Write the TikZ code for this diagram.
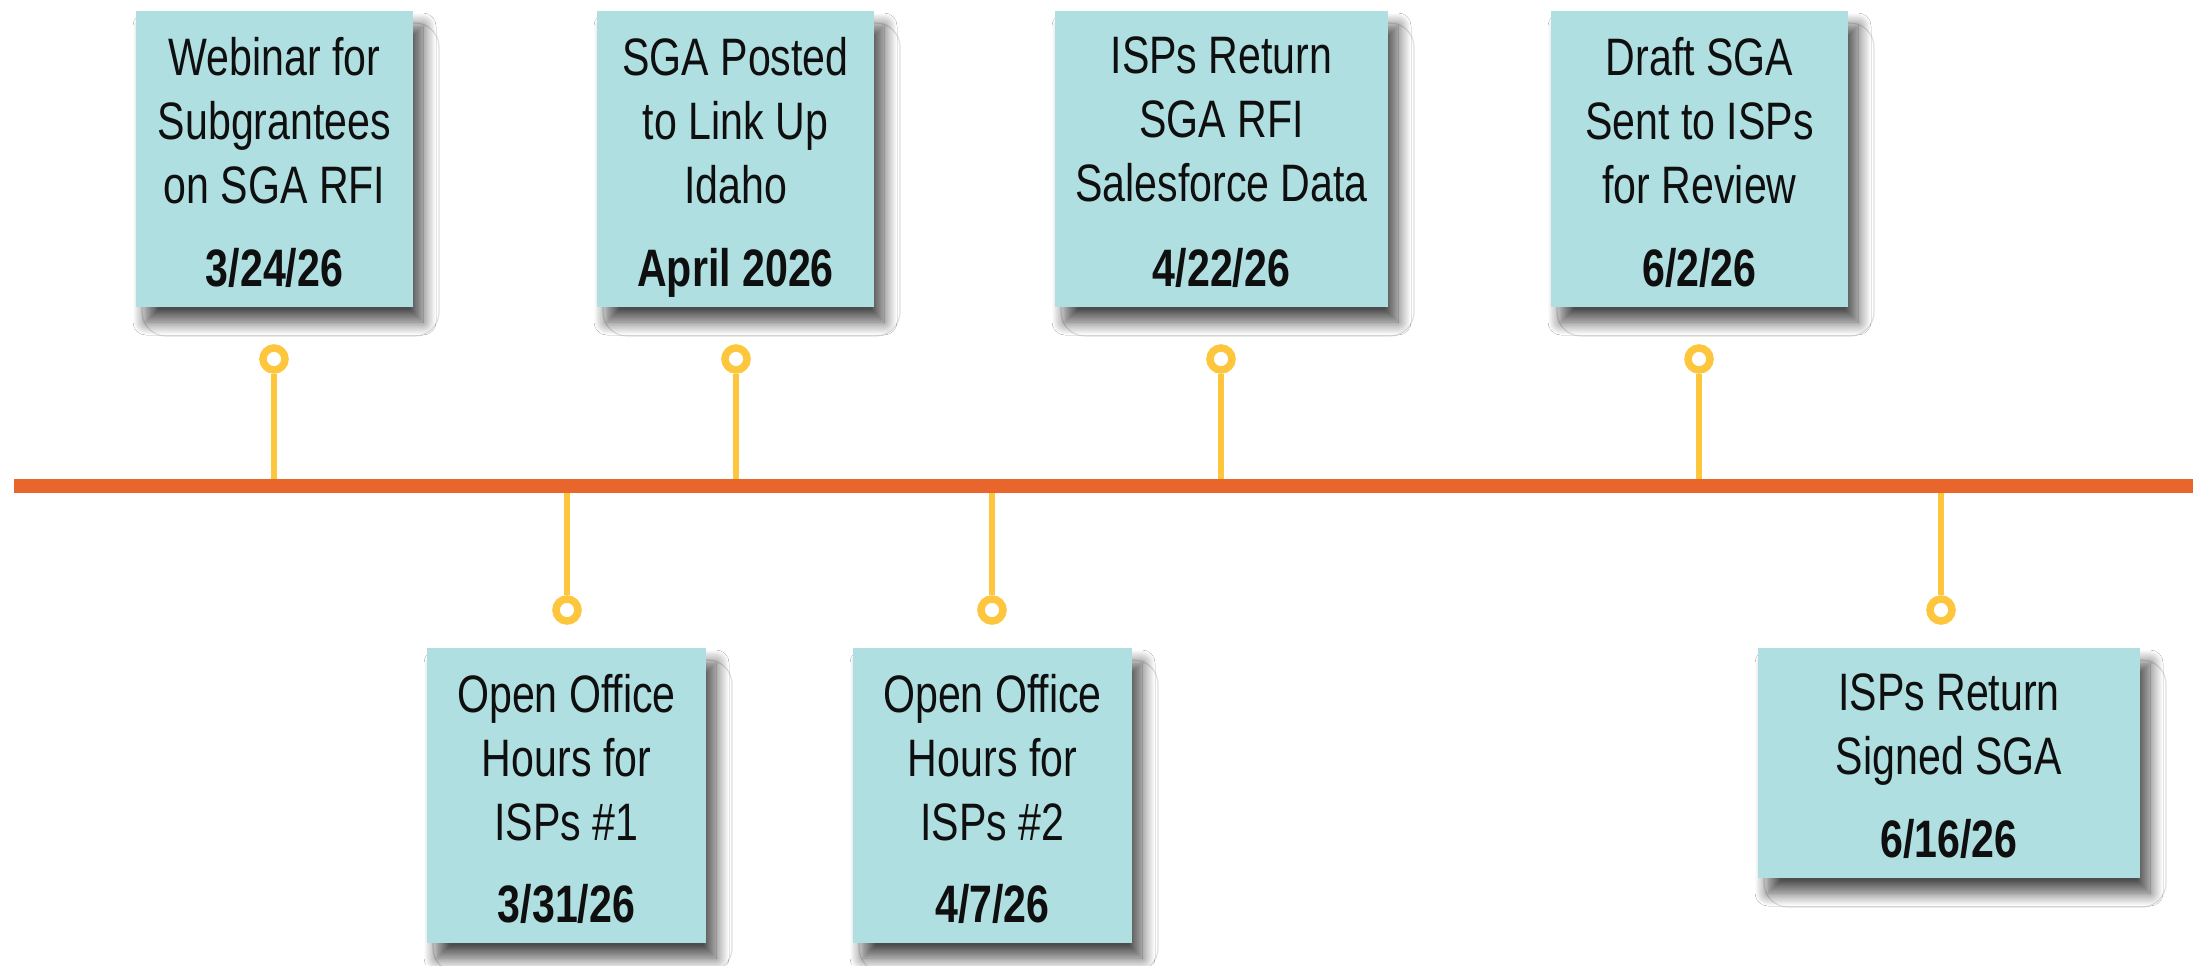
\documentclass[tikz,border=0pt]{standalone}
\usepackage{fontspec}
\setmainfont{Liberation Sans}[FakeStretch=0.78]
\usetikzlibrary{calc,shadows.blur}

\definecolor{cardfill}{RGB}{176,223,225}
\definecolor{lineorange}{RGB}{232,101,44}
\definecolor{pinyellow}{RGB}{253,198,60}
\definecolor{inktext}{RGB}{15,15,15}

% one drawing unit = one pixel of the 2193 x 965 canvas
\newcommand\pxu{0.02cm}

\tikzset{
  card/.style={fill=cardfill, inner sep=0pt,
    blur shadow={shadow xshift=10*\pxu, shadow yshift=-15*\pxu,
      shadow blur radius=13*\pxu, shadow blur steps=16, shadow opacity=70}},
  halo/.style={draw=black!12, line width=1.2*\pxu, rounded corners=24*\pxu},
  cardtext/.style={inner sep=0pt, align=center, text=inktext,
    font=\fontsize{30pt}{36.4pt}\selectfont},
  datetext/.style={inner sep=0pt, text=inktext,
    font=\fontsize{30pt}{36.4pt}\selectfont\bfseries},
  timeline/.style={draw=lineorange, line width=14*\pxu},
  stem/.style={draw=pinyellow, line width=5.5*\pxu},
  ring/.style={circle, draw=pinyellow, fill=white, line width=7.5*\pxu,
    minimum size=22*\pxu, inner sep=0pt}
}

% card: name, centre x, centre y, width, height, text, date
\newcommand\tlcard[7]{%
  \draw[halo] (#2-#4/2+6, #3-#5/2+12) rectangle (#2+#4/2+26, #3+#5/2+29);
  \node[card, minimum width=#4*\pxu, minimum height=#5*\pxu] (#1) at (#2,#3) {};
  \node[cardtext, anchor=north] (#1-t) at ($(#1.north)+(0,26)$) {#6};
  \node[datetext, anchor=base] (#1-d) at ($(#1.south)+(0,-21)$) {#7};
}

\begin{document}
\begin{tikzpicture}[x=\pxu, y=-\pxu]
  \useasboundingbox[fill=white] (0,0) rectangle (2193,965);

  % cards above the line
  \tlcard{b1}{274.5}{159}{277}{296}{Webinar for\\Subgrantees\\on SGA RFI}{3/24/26}
  \tlcard{b2}{735.5}{159}{277}{296}{SGA Posted\\to Link Up\\Idaho}{April 2026}
  \tlcard{b3}{1221.5}{159}{333}{296}{ISPs Return\\SGA RFI\\Salesforce Data}{4/22/26}
  \tlcard{b4}{1699.5}{159}{297}{296}{Draft SGA\\Sent to ISPs\\for Review}{6/2/26}

  % cards below the line
  \tlcard{b5}{566.5}{795.5}{279}{295}{Open Office\\Hours for\\ISPs \#1}{3/31/26}
  \tlcard{b6}{992.5}{795.5}{279}{295}{Open Office\\Hours for\\ISPs \#2}{4/7/26}
  \tlcard{b7}{1949}{763}{382}{230}{ISPs Return\\Signed SGA}{6/16/26}

  % the time axis
  \coordinate (tlA) at (14,486);
  \coordinate (tlB) at (2193,486);

  % pins
  \node[ring] (p1) at (274,359) {};
  \node[ring] (p2) at (736,359) {};
  \node[ring] (p3) at (1221,359) {};
  \node[ring] (p4) at (1699,359) {};
  \node[ring] (p5) at (567,610) {};
  \node[ring] (p6) at (992,610) {};
  \node[ring] (p7) at (1941,610) {};

  \foreach \p in {p1,p2,p3,p4,p5,p6,p7}
    \draw[stem] (\p) -- (\p |- tlA);

  \draw[timeline] (tlA) -- (tlB);
\end{tikzpicture}
\end{document}
